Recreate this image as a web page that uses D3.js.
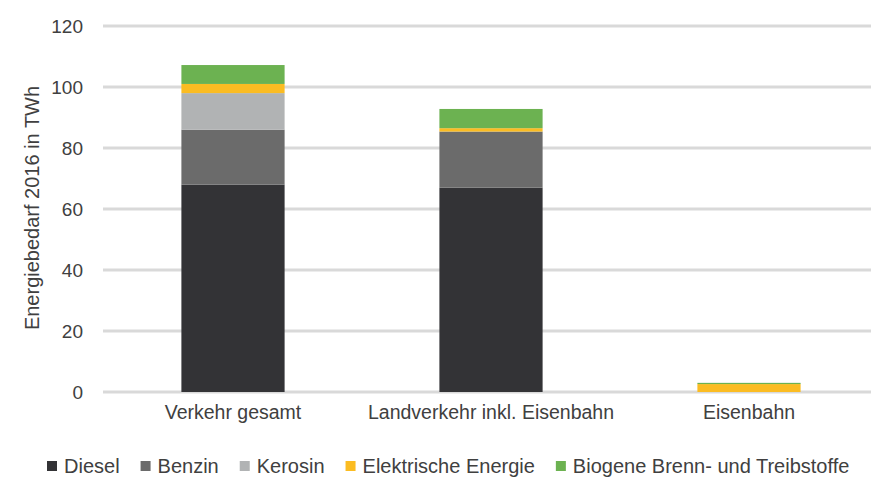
<!DOCTYPE html>
<html>
<head>
<meta charset="utf-8">
<script src="https://cdn.jsdelivr.net/npm/d3@7"></script>
<style>
  html, body { margin: 0; padding: 0; background: #fff; }
  svg { display: block; }
  text { font-family: "Liberation Sans", Arial, sans-serif; fill: #404040; }
</style>
</head>
<body>
<svg id="chart" width="871" height="480"></svg>
<script>
// Energiebedarf 2016 nach Energieträger (TWh)
const categories = ["Verkehr gesamt", "Landverkehr inkl. Eisenbahn", "Eisenbahn"];
const seriesNames = ["Diesel", "Benzin", "Kerosin", "Elektrische Energie", "Biogene Brenn- und Treibstoffe"];
const diesel     = [68, 67, 0];
const benzin     = [18, 18.4, 0];
const kerosin    = [12, 0, 0];
const elektrisch = [3, 1.1, 2.6];
const biogen     = [6.2, 6.3, 0.4];
const yTicks = [0, 20, 40, 60, 80, 100, 120];
const colors = ["#333336", "#6b6b6b", "#b1b3b4", "#fbbc22", "#6cb251"];

const seriesValues = [diesel, benzin, kerosin, elektrisch, biogen];
const table = categories.map((c, i) => {
  const row = { cat: c };
  seriesNames.forEach((s, k) => row[s] = seriesValues[k][i]);
  return row;
});

const svg = d3.select("#chart");
const W = 871, H = 480;

const x = d3.scaleBand().domain(categories).range([104, 878]).paddingInner(0.6).paddingOuter(0.3);
const y = d3.scaleLinear().domain([0, 120]).range([392, 26]);

// horizontal gridlines
svg.append("g").selectAll("line").data(yTicks).join("line")
  .attr("x1", 103).attr("x2", W)
  .attr("y1", d => y(d)).attr("y2", d => y(d))
  .attr("stroke", "#d9d9d9").attr("stroke-width", 3);

// stacked bars
const stacked = d3.stack().keys(seriesNames)(table);
svg.append("g").selectAll("g").data(stacked).join("g")
  .attr("fill", (d, i) => colors[i])
  .selectAll("rect").data(d => d).join("rect")
  .attr("x", d => x(d.data.cat))
  .attr("width", x.bandwidth())
  .attr("y", d => y(d[1]))
  .attr("height", d => Math.max(0, y(d[0]) - y(d[1])));

// y axis labels
const yAxis = svg.append("g").attr("transform", "translate(83,0)")
  .call(d3.axisLeft(y).tickValues(yTicks).tickSize(0).tickPadding(0));
yAxis.select(".domain").remove();
yAxis.selectAll("text").attr("font-size", 19).style("font-family", null).attr("fill", "#404040");

// x axis labels
const xAxis = svg.append("g").attr("transform", "translate(0,400)")
  .call(d3.axisBottom(x).tickSize(0).tickPadding(0));
xAxis.select(".domain").remove();
xAxis.selectAll("text").attr("font-size", 19.5).attr("dy", "0.95em").style("font-family", null).attr("fill", "#404040");

// y axis title
svg.append("text")
  .attr("transform", "translate(39,208) rotate(-90)")
  .attr("text-anchor", "middle")
  .attr("font-size", 20)
  .text("Energiebedarf 2016 in TWh");

// legend
const legend = svg.append("g");
let lx = 47;
seriesNames.forEach((s, i) => {
  const g = legend.append("g").attr("transform", `translate(${lx},0)`);
  g.append("rect").attr("x", 0).attr("y", 461).attr("width", 10).attr("height", 10).attr("fill", colors[i]);
  const t = g.append("text").attr("x", 17).attr("y", 473).attr("font-size", 20).text(s);
  lx += 17 + t.node().getComputedTextLength() + 21;
});
</script>
</body>
</html>
